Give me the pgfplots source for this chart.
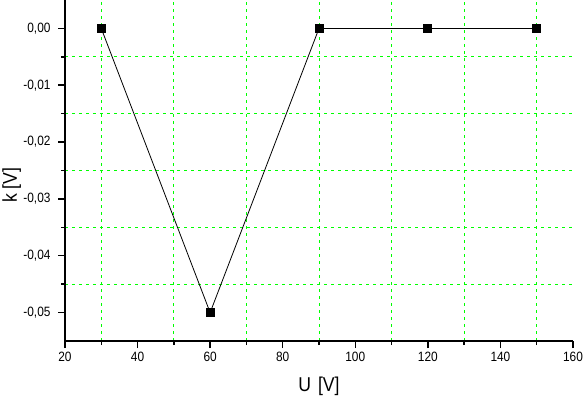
\documentclass[border=0pt]{standalone}
\usepackage{pgfplots}
\pgfplotsset{compat=1.18}
\usepackage{fontspec}
\setmainfont{Liberation Sans}[FakeStretch=0.88]
\definecolor{grn}{RGB}{0,255,0}
\begin{document}
\begin{tikzpicture}
\begin{axis}[
  scale only axis,
  width=508pt, height=341pt,
  at={(0,0)}, anchor=south west,
  xmin=20, xmax=160, ymin=-0.055, ymax=0.005,
  xtick={20,40,...,160},
  ytick={-0.05,-0.04,-0.03,-0.02,-0.01,0},
  minor x tick num=1, minor y tick num=1,
  axis x line*=bottom, axis y line*=left,
  axis line style={-, line width=1.5pt},
  tick align=outside,
  major tick length=7pt, minor tick length=4pt,
  every tick/.style={black, line width=1.5pt},
  grid=minor,
  minor grid style={grn, line width=0.9pt, dash pattern=on 3pt off 4pt},
  major grid style={draw=none},
  tick label style={font=\fontsize{13.5}{15}\selectfont},
  /pgf/number format/assume math mode=true,
  yticklabel style={xshift=-4pt, /pgf/number format/.cd, fixed, fixed zerofill, precision=2, use comma},
  xticklabel style={yshift=-1pt, /pgf/number format/.cd, fixed, precision=0},
  scaled y ticks=false,
  xlabel={U\hspace{0.35em}[V]},
  ylabel={k [V]},
  label style={font=\fontsize{20}{22}\selectfont},
  xlabel style={at={(axis description cs:0.5,0)}, anchor=base, yshift=-50pt},
  ylabel style={at={(axis description cs:-0.105,0.457)}, anchor=center, rotate=0},
  clip=false,
]
\addplot[black, line width=0.8pt, mark=square*, mark size=4pt, mark options={fill=black, draw=none}]
  coordinates {(30,0) (60,-0.05) (90,0) (120,0) (150,0)};
\end{axis}
\pgfresetboundingbox
\path[use as bounding box] (-65pt,-58pt) rectangle (519pt,341pt);
\end{tikzpicture}
\end{document}
